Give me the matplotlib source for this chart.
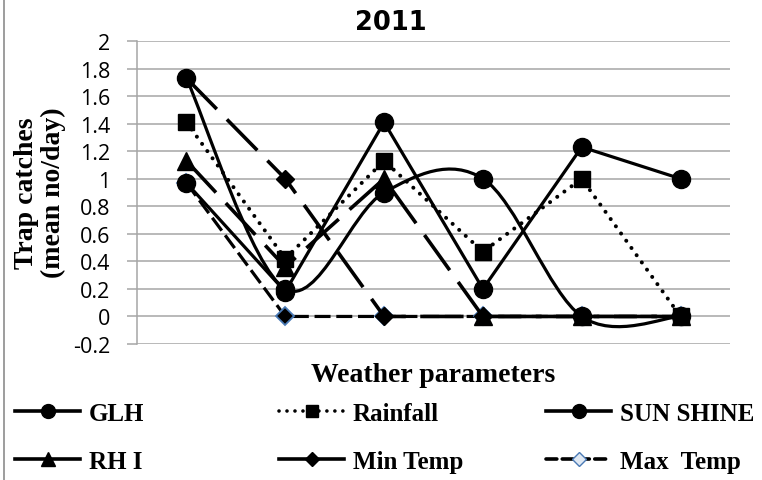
import numpy as np
import matplotlib
matplotlib.use("Agg")
import matplotlib.pyplot as plt
from matplotlib.path import Path
from matplotlib.patches import PathPatch
from matplotlib.lines import Line2D
from matplotlib.ticker import FuncFormatter

# ---------------- data ----------------
positions = [1, 2, 3, 4, 5, 6]
glh = [0.97, 0.18, 1.41, 0.20, 1.23, 1.00]
rainfall = [1.41, 0.42, 1.13, 0.47, 1.00, 0.00]
sun_shine = [1.73, 0.20, 0.90, 1.00, 0.00, 0.00]
rh_i = [1.13, 0.36, 1.00, 0.00, 0.00, 0.00]
min_temp = [1.73, 1.00, 0.00, 0.00, 0.00, 0.00]
max_temp = [0.97, 0.00, 0.00, 0.00, 0.00, 0.00]
y_ticks = [-0.2, 0, 0.2, 0.4, 0.6, 0.8, 1, 1.2, 1.4, 1.6, 1.8, 2]

serif = "Liberation Serif"
sans = ["Open Sans", "DejaVu Sans"]

fig = plt.figure(figsize=(7.62, 4.81), dpi=100)
ax = fig.add_axes([137 / 762, 1 - 345 / 481, (730 - 137) / 762, (345 - 42) / 481])

LW = 2.3
BLUE = "#4a7ab5"

# Max Temp (dashed, diamond with blue edge)
ax.plot(positions, max_temp, color="black", lw=LW, dashes=(5, 1.8),
        marker="D", ms=9, mfc="black", mec=BLUE, mew=1.3, zorder=2)

# GLH (straight solid, circles)
ax.plot(positions, glh, color="black", lw=LW, marker="o", ms=13, zorder=3)

# Rainfall (dotted, squares)
ax.plot(positions, rainfall, color="black", lw=2.9, dashes=(0.01, 2.2),
        dash_capstyle="round", marker="s", ms=12, zorder=3)


# SUN SHINE (smoothed solid, circles) - Bezier through data points
def smooth_path(xs, ys):
    pts = np.column_stack([xs, ys]).astype(float)
    n = len(pts)
    verts = [pts[0]]
    codes = [Path.MOVETO]
    for i in range(n - 1):
        p0 = pts[i - 1] if i > 0 else pts[i]
        p1 = pts[i]
        p2 = pts[i + 1]
        p3 = pts[i + 2] if i + 2 < n else pts[i + 1]
        c1 = p1 + (p2 - p0) / 6.0
        c2 = p2 - (p3 - p1) / 6.0
        verts += [c1, c2, p2]
        codes += [Path.CURVE4] * 3
    return Path(verts, codes)


ax.add_patch(PathPatch(smooth_path(positions, sun_shine), facecolor="none",
                       edgecolor="black", lw=LW, zorder=3))
ax.plot(positions, sun_shine, linestyle="none", color="black", marker="o",
        ms=13, zorder=3)

# RH I (long dash, triangles)
ax.plot(positions, rh_i, color="black", lw=2.6, dashes=(12, 4),
        marker="^", ms=13, zorder=4)

# Min Temp (long dash, diamonds)
ax.plot(positions, min_temp, color="black", lw=2.6, dashes=(12, 4),
        marker="D", ms=9, zorder=4)

# ---------------- axes styling ----------------
ax.set_xlim(0.5, 6.5)
ax.set_ylim(-0.2, 2.0)
ax.set_yticks(y_ticks)
ax.yaxis.set_major_formatter(FuncFormatter(lambda v, p: f"{v:g}"))
ax.set_xticks([])
ax.grid(axis="y", color="#a6a6a6", lw=1.1, zorder=0)
ax.set_axisbelow(True)
for s in ["top", "right", "bottom"]:
    ax.spines[s].set_visible(False)
ax.spines["left"].set_color("#a6a6a6")
ax.spines["left"].set_linewidth(1.1)
ax.tick_params(axis="y", length=7, width=1.1, color="#a6a6a6", pad=12,
               labelsize=15.5)
for lab in ax.get_yticklabels():
    lab.set_fontfamily(sans)

ax.set_xlabel("Weather parameters", fontfamily=serif, fontweight="bold",
              fontsize=20, labelpad=13)
fig.text(40 / 762, 1 - 193 / 481, "Trap catches\n(mean no/day)", rotation=90,
         ha="center", va="center", fontfamily=serif, fontweight="bold",
         fontsize=20, linespacing=1.05)
fig.text(391 / 762, 1 - 23 / 481, "2011", ha="center", va="center",
         fontfamily="DejaVu Sans", fontweight="bold", fontsize=18.5)

# left chart border
fig.add_artist(Line2D([4 / 762, 4 / 762], [0, 1], transform=fig.transFigure,
                      color="#8c8c8c", lw=1.2))

# ---------------- legend ----------------
def proxy(marker, ms, dashes=None, mec="black", mfc="black"):
    kw = dict(color="black", lw=2.6, marker=marker, ms=ms, mfc=mfc, mec=mec)
    if dashes is not None:
        kw["dashes"] = dashes
        kw["dash_capstyle"] = "round"
    return Line2D([], [], linestyle="-", **kw)


columns = [
    (15, [(proxy("o", 10), "GLH"), (proxy("^", 10), "RH I")]),
    (279, [(proxy("s", 9, dashes=(0.01, 2.2)), "Rainfall"),
           (proxy("D", 7), "Min Temp")]),
    (546, [(proxy("o", 10), "SUN SHINE"),
           (proxy("D", 7, dashes=(3, 1.5), mec=BLUE, mfc="#dfe8f3"), "Max  Temp")]),
]
for xpix, entries in columns:
    fig.legend([e[0] for e in entries], [e[1] for e in entries],
               loc="upper left", bbox_to_anchor=(xpix / 762, 1 - 403 / 481),
               frameon=False, borderpad=0, borderaxespad=0,
               handlelength=2.6, handletextpad=0.35, labelspacing=1.0,
               prop={"family": serif, "weight": "bold", "size": 18})

fig.savefig("out.png", dpi=100)
